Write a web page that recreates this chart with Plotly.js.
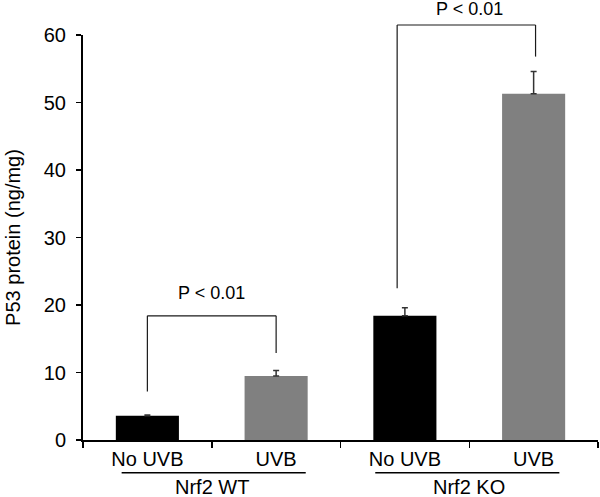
<!DOCTYPE html>
<html>
<head>
<meta charset="utf-8">
<script src="https://cdn.plot.ly/plotly-3.0.1.min.js"></script>
<style>html,body{margin:0;padding:0;background:#fff;}#chart{width:600px;height:497px;}</style>
</head>
<body>
<div id="chart"></div>
<script>
// ---- data ----
const categories = ["WT No UVB", "WT UVB", "KO No UVB", "KO UVB"];
const tickLabels = ["No UVB", "UVB", "No UVB", "UVB"];
const groupLabels = ["Nrf2 WT", "Nrf2 KO"];
const p53 = [3.6, 9.5, 18.4, 51.3];
const p53Err = [0.1, 0.8, 1.2, 3.3];
const pLabels = ["P < 0.01", "P < 0.01"];
const yTicks = [0, 10, 20, 30, 40, 50, 60];

// ---- styles ----
const FONT = "Liberation Sans, Arial, Helvetica, sans-serif";
const barColors = ["#000000", "#808080", "#000000", "#808080"];
const lineCol = "#1a1a1a";

const trace = {
  type: "bar",
  x: categories,
  y: p53,
  marker: { color: barColors, line: { width: 0 } },
  error_y: { type: "data", array: p53Err, arrayminus: p53Err.map(() => 0), symmetric: false,
             color: "#333333", thickness: 1.5, width: 3 },
  hoverinfo: "skip"
};

function seg(x0, y0, x1, y1, yref) {
  return { type: "line", xref: "x", yref: yref || "y", x0, y0, x1, y1,
           line: { color: lineCol, width: 1.2 } };
}

const shapes = [
  seg(0, 7.2, 0, 18.4), seg(0, 18.4, 1, 18.4), seg(1, 18.4, 1, 12.9),
  seg(1.94, 22.5 / 60, 1.94, 1.0247, "paper"),
  seg(1.94, 1.0247, 3.015, 1.0247, "paper"),
  seg(3.015, 1.0247, 3.015, 56.8 / 60, "paper"),
  { type: "line", xref: "x", yref: "paper", x0: -0.2, x1: 1.23, y0: -0.081, y1: -0.081, line: { color: "#000", width: 1.5 } },
  { type: "line", xref: "x", yref: "paper", x0: 1.77, x1: 3.2, y0: -0.081, y1: -0.081, line: { color: "#000", width: 1.5 } }
];

const annotations = [
  { xref: "x", yref: "y", x: 0.5, y: 21.8, text: pLabels[0], showarrow: false, yanchor: "middle",
    font: { family: FONT, size: 18, color: "#000" } },
  { xref: "x", yref: "paper", x: 2.5, y: 1.064, text: pLabels[1], showarrow: false, yanchor: "middle",
    font: { family: FONT, size: 18, color: "#000" } },
  { xref: "x", yref: "paper", x: 0.5, y: -0.116, text: groupLabels[0], showarrow: false, yanchor: "middle",
    font: { family: FONT, size: 20, color: "#000" } },
  { xref: "x", yref: "paper", x: 2.5, y: -0.116, text: groupLabels[1], showarrow: false, yanchor: "middle",
    font: { family: FONT, size: 20, color: "#000" } }
];

const layout = {
  width: 600, height: 497,
  margin: { l: 83, r: 2, t: 35, b: 57, pad: 0 },
  paper_bgcolor: "#fff", plot_bgcolor: "#fff",
  showlegend: false,
  bargap: 0.51,
  font: { family: FONT, size: 20, color: "#000" },
  xaxis: {
    type: "category", tickvals: categories, ticktext: tickLabels,
    range: [-0.5, 3.5],
    showline: true, linecolor: "#000", linewidth: 2,
    ticks: "outside", tickson: "boundaries", ticklen: 6, tickwidth: 1.5, tickcolor: "#000",
    showgrid: false, zeroline: false, automargin: false,
    tickfont: { family: FONT, size: 20, color: "#000" }
  },
  yaxis: {
    range: [0, 60], tickvals: yTicks,
    showline: true, linecolor: "#000", linewidth: 2,
    ticks: "outside", ticklen: 5, tickwidth: 1.5, tickcolor: "#000",
    ticklabelstandoff: 6,
    showgrid: false, zeroline: false, automargin: false,
    tickfont: { family: FONT, size: 20, color: "#000" },
    title: { text: "P53 protein (ng/mg)", font: { family: FONT, size: 20, color: "#000" }, standoff: 18 }
  },
  shapes, annotations
};

Plotly.newPlot("chart", [trace], layout, { staticPlot: true, displayModeBar: false });
</script>
</body>
</html>
